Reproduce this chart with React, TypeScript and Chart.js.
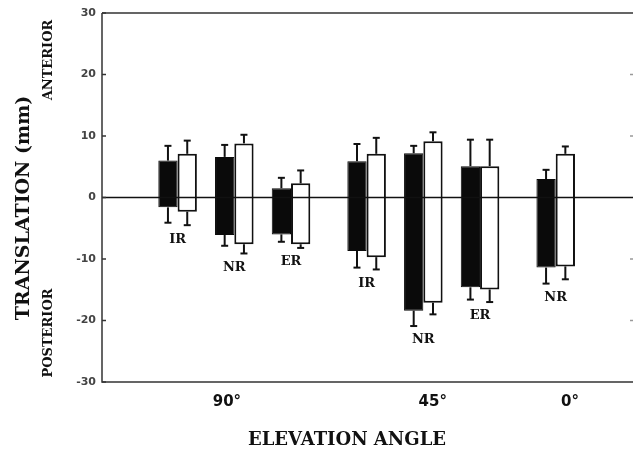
import React, { useEffect, useRef } from "react";
import { Chart, registerables } from "chart.js";

Chart.register(...registerables);

// ---- data ----
const subLabels = ["IR", "NR", "ER", "IR", "NR", "ER", "NR"];
const positions = [1, 2, 3, 4.333, 5.333, 6.333, 7.667];
const blackLow = [-1.6, -6.1, -6.0, -8.7, -18.4, -14.6, -11.4];
const blackHigh = [6.0, 6.6, 1.5, 5.9, 7.2, 5.1, 3.0];
const blackErrLow = [-4.1, -7.85, -7.2, -11.4, -20.9, -16.6, -14.0];
const blackErrHigh = [8.4, 8.55, 3.2, 8.7, 8.4, 9.4, 4.5];
const whiteLow = [-2.3, -7.6, -7.6, -9.7, -17.1, -14.95, -11.2];
const whiteHigh = [7.1, 8.8, 2.3, 7.1, 9.15, 5.1, 7.1];
const whiteErrLow = [-4.5, -9.1, -8.2, -11.7, -19.0, -17.0, -13.3];
const whiteErrHigh = [9.25, 10.2, 4.4, 9.7, 10.6, 9.4, 8.3];
const groupLabels = ["90°", "45°", "0°"];
const groupLabelX = [1.87, 5.5, 7.92];
const yTicks = [-30, -20, -10, 0, 10, 20, 30];

const SERIF = "'DejaVu Serif', 'Liberation Serif', serif";
const SANS = "'DejaVu Sans', 'Liberation Sans', sans-serif";

const decorPlugin = {
  id: "decor",
  afterDatasetsDraw(chart: any) {
    const ctx = chart.ctx;
    const { left, right, top, bottom } = chart.chartArea;
    const ys = chart.scales.y;
    const xs = chart.scales.x;
    ctx.save();
    // zero line
    ctx.strokeStyle = "#111";
    ctx.lineWidth = 1.5;
    ctx.beginPath();
    ctx.moveTo(left, ys.getPixelForValue(0));
    ctx.lineTo(right, ys.getPixelForValue(0));
    ctx.stroke();

    // error bars
    const errs = [
      [blackErrLow, blackLow, blackErrHigh, blackHigh],
      [whiteErrLow, whiteLow, whiteErrHigh, whiteHigh],
    ];
    errs.forEach((e, di) => {
      const meta = chart.getDatasetMeta(di);
      meta.data.forEach((bar: any, i: number) => {
        const x = bar.x;
        ctx.strokeStyle = "#111";
        ctx.lineWidth = 2;
        const pairs = [
          [e[0][i], e[1][i]],
          [e[2][i], e[3][i]],
        ];
        pairs.forEach(([cap, end]) => {
          const yc = ys.getPixelForValue(cap);
          const ye = ys.getPixelForValue(end);
          ctx.beginPath();
          ctx.moveTo(x, ye);
          ctx.lineTo(x, yc);
          ctx.stroke();
          ctx.beginPath();
          ctx.moveTo(x - 3.5, yc);
          ctx.lineTo(x + 3.5, yc);
          ctx.stroke();
        });
      });
    });

    // frame
    ctx.strokeStyle = "#333";
    ctx.lineWidth = 1.5;
    ctx.beginPath();
    ctx.moveTo(left, top);
    ctx.lineTo(right, top);
    ctx.moveTo(left, top);
    ctx.lineTo(left, bottom);
    ctx.lineTo(right, bottom);
    ctx.stroke();
    // inward ticks
    yTicks.forEach((v) => {
      const y = ys.getPixelForValue(v);
      ctx.beginPath();
      ctx.moveTo(left, y);
      ctx.lineTo(left + 4, y);
      ctx.stroke();
      if (v !== 30 && v !== -30 && v !== 0) {
        ctx.strokeStyle = "#999";
        ctx.beginPath();
        ctx.moveTo(right - 3, y);
        ctx.lineTo(right, y);
        ctx.stroke();
        ctx.strokeStyle = "#333";
      }
    });

    // sub labels
    ctx.fillStyle = "#111";
    ctx.font = `bold 13px ${SERIF}`;
    ctx.textAlign = "center";
    ctx.textBaseline = "middle";
    subLabels.forEach((lab, i) => {
      const lo = Math.min(blackErrLow[i], whiteErrLow[i]);
      const y = ys.getPixelForValue(lo) + 14;
      ctx.fillText(lab, xs.getPixelForValue(positions[i]), y);
    });

    // group labels
    ctx.font = `bold 15px ${SANS}`;
    groupLabels.forEach((lab, i) => {
      ctx.fillText(lab, xs.getPixelForValue(groupLabelX[i]), 402);
    });

    // x title
    ctx.font = `bold 18px ${SERIF}`;
    ctx.fillText("ELEVATION ANGLE", 347, 440);

    // y titles (rotated)
    const vtext = (t: string, x: number, y: number, font: string) => {
      ctx.save();
      ctx.translate(x, y);
      ctx.rotate(-Math.PI / 2);
      ctx.font = font;
      ctx.textAlign = "center";
      ctx.textBaseline = "middle";
      ctx.fillText(t, 0, 0);
      ctx.restore();
    };
    vtext("TRANSLATION (mm)", 24, 208, `bold 19px ${SERIF}`);
    vtext("ANTERIOR", 49, 60, `bold 13px ${SERIF}`);
    vtext("POSTERIOR", 49, 333, `bold 13px ${SERIF}`);
    ctx.restore();
  },
};

export default function App() {
  const ref = useRef<HTMLCanvasElement>(null);
  useEffect(() => {
    if (!ref.current) return;
    const chart = new Chart(ref.current, {
      type: "bar",
      data: {
        datasets: [
          {
            label: "black",
            data: positions.map((p, i) => ({ x: p, y: [blackLow[i], blackHigh[i]] })) as any,
            backgroundColor: "#0a0a0a",
            borderColor: "#0a0a0a",
            borderWidth: 1,
            borderSkipped: false,
            categoryPercentage: 0.68,
            barPercentage: 1,
          },
          {
            label: "white",
            data: positions.map((p, i) => ({ x: p, y: [whiteLow[i], whiteHigh[i]] })) as any,
            backgroundColor: "#ffffff",
            borderColor: "#111",
            borderWidth: 2,
            borderSkipped: false,
            categoryPercentage: 0.68,
            barPercentage: 1,
          },
        ],
      },
      options: {
        animation: false,
        responsive: true,
        maintainAspectRatio: false,
        layout: { padding: { top: 13, bottom: 70, left: 0, right: 0 } },
        plugins: { legend: { display: false }, tooltip: { enabled: false } },
        scales: {
          x: {
            type: "linear",
            min: -0.333,
            max: 9.03,
            offset: false,
            display: false,
          },
          y: {
            min: -30,
            max: 30,
            afterFit: (s: any) => {
              s.width = 102;
            },
            afterBuildTicks: (s: any) => {
              s.ticks = yTicks.map((v) => ({ value: v }));
            },
            grid: { display: false, drawTicks: false },
            border: { display: false },
            ticks: {
              padding: 6,
              color: "#444",
              font: { family: SANS, size: 11, weight: "bold" },
            },
          },
        },
      },
      plugins: [decorPlugin],
    });
    return () => chart.destroy();
  }, []);
  return (
    <div style={{ position: "fixed", left: 0, top: 0, width: 633, height: 452, background: "#fff" }}>
      <canvas ref={ref} />
    </div>
  );
}
